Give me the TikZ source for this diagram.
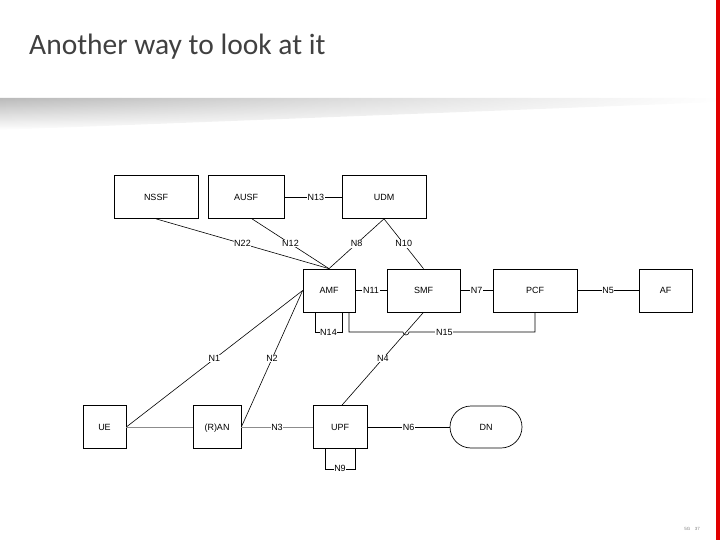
\documentclass[tikz,border=0pt]{standalone}
\usepackage{fontspec}
\setmainfont{Liberation Sans}
\newfontfamily\titlefont{Carlito}
\usetikzlibrary{fadings}

\definecolor{slidered}{RGB}{226,0,0}
\definecolor{titlegray}{RGB}{64,64,64}

\tikzset{
  box/.style={draw, line width=0.7pt, minimum height=43, inner sep=0pt,
    text height=6.5pt, text depth=0pt, font=\fontsize{9}{10}\selectfont},
  link/.style={line width=0.6pt},
  lbl/.style={fill=white, inner sep=0.6pt, font=\fontsize{9}{10}\selectfont},
}

\begin{document}
\begin{tikzpicture}[x=1pt, y=-1pt]
  \useasboundingbox (0,0) rectangle (720,540);

  % Slide frame: title, shadow band, red edge and footer
  \node[anchor=base west, inner sep=0pt, text=titlegray,
    font=\titlefont\fontsize{29.5}{32}\selectfont] (title) at (29,55) {Another way to look at it};
  \shade[top color=black!27, bottom color=white, path fading=east]
    (0,98) -- (720,98) -- (720,102) -- (0,130) -- cycle;
  \fill[slidered] (716,0) rectangle (720,540);
  \node[text=gray, font=\fontsize{4.5}{5}\selectfont] (slideno) at (692,529) {5G\quad 37};

  % Place the network functions
  \foreach \name/\txt/\x/\y/\w in {
      nssf/NSSF/156/197/84, ausf/AUSF/246/197/76, udm/UDM/384/197/84,
      amf/AMF/329/290.5/52, smf/SMF/423.5/290.5/73, pcf/PCF/535/290.5/84,
      af/AF/665.5/290.5/53,
      ue/UE/104.5/427/43, ran/(R)AN/217/427/48, upf/UPF/340/427/54}
    \node[box, minimum width=\w] (\name) at (\x,\y) {\txt};
  \node[box, minimum width=72, minimum height=42, rounded corners=21pt] (dn) at (486,427) {DN};

  % Crossing point of N4 and N15
  \coordinate (hop) at (406,332);

  % Draw the interfaces to the AMF
  \draw[link] (nssf.south) -- (amf.north) node[lbl, pos=0.5] {N22};
  \draw[link] ([xshift=6]ausf.south) -- (amf.north) node[lbl, pos=0.5] {N12};
  \draw[link] (udm.south) -- (amf.north) node[lbl, pos=0.5] {N8};
  \draw[link] (udm.south) -- (smf.north) node[lbl, pos=0.5] {N10};
  \draw[link] (ausf.east) -- (udm.west) node[lbl, pos=0.55] {N13};

  % Draw the horizontal chain
  \draw[link] (amf.east) -- (smf.west) node[lbl, pos=0.5] {N11};
  \draw[link] (smf.east) -- (pcf.west) node[lbl, pos=0.5] {N7};
  \draw[link] (pcf.east) -- (af.west) node[lbl, pos=0.5] {N5};

  % Draw the loops and the N15 path
  \draw[link] ([xshift=-14]amf.south) -- ++(0,20) -| ([xshift=13]amf.south)
    node[lbl, pos=0.25] {N14};
  \draw[link] ([xshift=20]amf.south) |- ([xshift=-3]hop)
    arc[start angle=180, end angle=0, radius=3] -| (pcf.south)
    node[lbl, pos=0.14] {N15};
  \draw[link] ([xshift=-15]upf.south) -- ++(0,20) -| ([xshift=15]upf.south)
    node[lbl, pos=0.25] {N9};

  % Draw the access side
  \draw[link] (ue.east) -- (amf.west) node[lbl, pos=0.5] {N1};
  \draw[link] (ran.east) -- (amf.west) node[lbl, pos=0.5] {N2};
  \draw[link] ([xshift=2]upf.north) -- (smf.south) node[lbl, pos=0.5] {N4};
  \draw[link, black!45] (ue.east) -- (ran.west);
  \draw[link, black!45] (ran.east) -- (upf.west) node[lbl, text=black, pos=0.5] {N3};
  \draw[link] (upf.east) -- (dn.west) node[lbl, pos=0.5] {N6};

\end{tikzpicture}
\end{document}
